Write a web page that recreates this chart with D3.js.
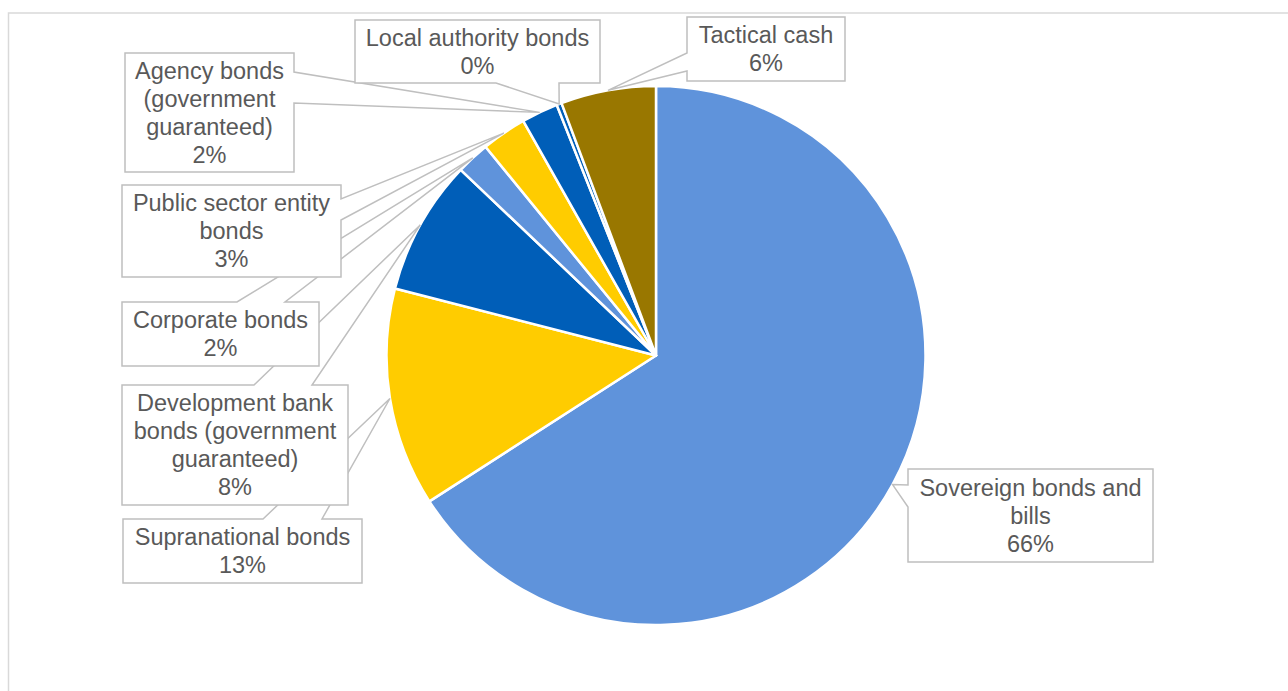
<!DOCTYPE html>
<html>
<head>
<meta charset="utf-8">
<script src="https://cdn.jsdelivr.net/npm/d3@7"></script>
<style>
  body { margin: 0; background: #fff; }
  svg { display: block; }
</style>
</head>
<body>
<div class="wrapper"></div>
<script>
const WIDTH = 1288
const HEIGHT = 691

// holdings, clockwise from 12 o'clock (percent of portfolio)
var categories = ['Sovereign bonds and bills', 'Supranational bonds',
                  'Development bank bonds (government guaranteed)', 'Corporate bonds',
                  'Public sector entity bonds', 'Agency bonds (government guaranteed)',
                  'Local authority bonds', 'Tactical cash']
var values = [65.9, 13.1, 8.1, 2.0, 2.7, 2.2, 0.3, 5.7]

// how each label wraps inside its callout
var labelLines = [
	['Sovereign bonds and', 'bills'],
	['Supranational bonds'],
	['Development bank', 'bonds (government', 'guaranteed)'],
	['Corporate bonds'],
	['Public sector entity', 'bonds'],
	['Agency bonds', '(government', 'guaranteed)'],
	['Local authority bonds'],
	['Tactical cash']
]

var colors = ['#5F93DB', '#FFCC00', '#005EB8', '#5F93DB', '#FFCC00', '#005EB8', '#005EB8', '#997700']

// callout boxes (placed by hand like in the original), pointer base on one edge
var callouts = [
	{x: 908, y: 469, w: 245, h: 93,  side: 'left',   b: [16, 38]},
	{x: 123, y: 519, w: 239, h: 64,  side: 'top',    b: [140, 199]},
	{x: 122, y: 385, w: 226, h: 120, side: 'top',    b: [132, 190]},
	{x: 122, y: 302, w: 197, h: 64,  side: 'top',    b: [115, 163]},
	{x: 122, y: 185, w: 219, h: 92,  side: 'right',  b: [14, 35]},
	{x: 125, y: 53,  w: 169, h: 119, side: 'right',  b: [19, 50]},
	{x: 355, y: 20,  w: 245, h: 63,  side: 'bottom', b: [141, 204]},
	{x: 687, y: 17,  w: 158, h: 64,  side: 'left',   b: [36, 54]}
]

var cx = 656, cy = 355.5, radius = 269.5
var lineH = 28

var svg = d3.select(".wrapper")
	.append("svg")
	.attr("width", WIDTH)
	.attr("height", HEIGHT)
	.style("font-family", "Liberation Sans, Arial, sans-serif")

// chart area border
svg.append("rect")
	.attr("x", 8.5).attr("y", 13)
	.attr("width", 1400).attr("height", 800)
	.attr("fill", "none")
	.attr("stroke", "#D9D9D9")
	.attr("stroke-width", 1.5)

var total = d3.sum(values)
var pct = d3.format(".0%")

var pie = d3.pie().sort(null).value(d => d)
var arcs = pie(values)
var arc = d3.arc().innerRadius(0).outerRadius(radius)
var edgeArc = d3.arc().innerRadius(radius).outerRadius(radius)

var g = svg.append("g").attr("transform", `translate(${cx},${cy})`)

g.selectAll("path")
	.data(arcs)
	.join("path")
	.attr("d", arc)
	.attr("fill", (d, i) => colors[i])
	.attr("stroke", "#fff")
	.attr("stroke-width", 2.5)
	.attr("stroke-linejoin", "round")

function calloutPath(c, tip) {
	var x0 = c.x, y0 = c.y, x1 = c.x + c.w, y1 = c.y + c.h
	var t = `L${tip[0]},${tip[1]}`
	if (c.side == 'left') {
		return `M${x0},${y0}H${x1}V${y1}H${x0}V${y0 + c.b[1]}${t}L${x0},${y0 + c.b[0]}Z`
	} else if (c.side == 'right') {
		return `M${x0},${y0}H${x1}V${y0 + c.b[0]}${t}L${x1},${y0 + c.b[1]}V${y1}H${x0}Z`
	} else if (c.side == 'top') {
		return `M${x0},${y0}H${x0 + c.b[0]}${t}L${x0 + c.b[1]},${y0}H${x1}V${y1}H${x0}Z`
	}
	return `M${x0},${y0}H${x1}V${y1}H${x0 + c.b[1]}${t}L${x0 + c.b[0]},${y1}H${x0}Z`
}

// drawn in series order so later callouts sit on top of earlier pointers
var labels = svg.append("g").attr("class", "labels")
	.selectAll("g")
	.data(arcs)
	.join("g")

labels.append("path")
	.attr("d", function(d, i) {
		var p = edgeArc.centroid(d)
		return calloutPath(callouts[i], [p[0] + cx, p[1] + cy])
	})
	.attr("fill", "#fff")
	.attr("stroke", "#BFBFBF")
	.attr("stroke-width", 1.5)
	.attr("stroke-linejoin", "miter")

labels.append("text")
	.attr("fill", "#595959")
	.style("font-size", "23.5px")
	.attr("text-anchor", "middle")
	.each(function(d, i) {
		var c = callouts[i]
		var lines = labelLines[i].concat([pct(d.data / total)])
		var top = c.y + c.h / 2 - (lines.length - 1) * lineH / 2
		d3.select(this).selectAll("tspan")
			.data(lines)
			.join("tspan")
			.attr("x", c.x + c.w / 2)
			.attr("y", (l, j) => top + j * lineH)
			.attr("dy", "0.35em")
			.text(l => l)
	})
</script>
</body>
</html>
